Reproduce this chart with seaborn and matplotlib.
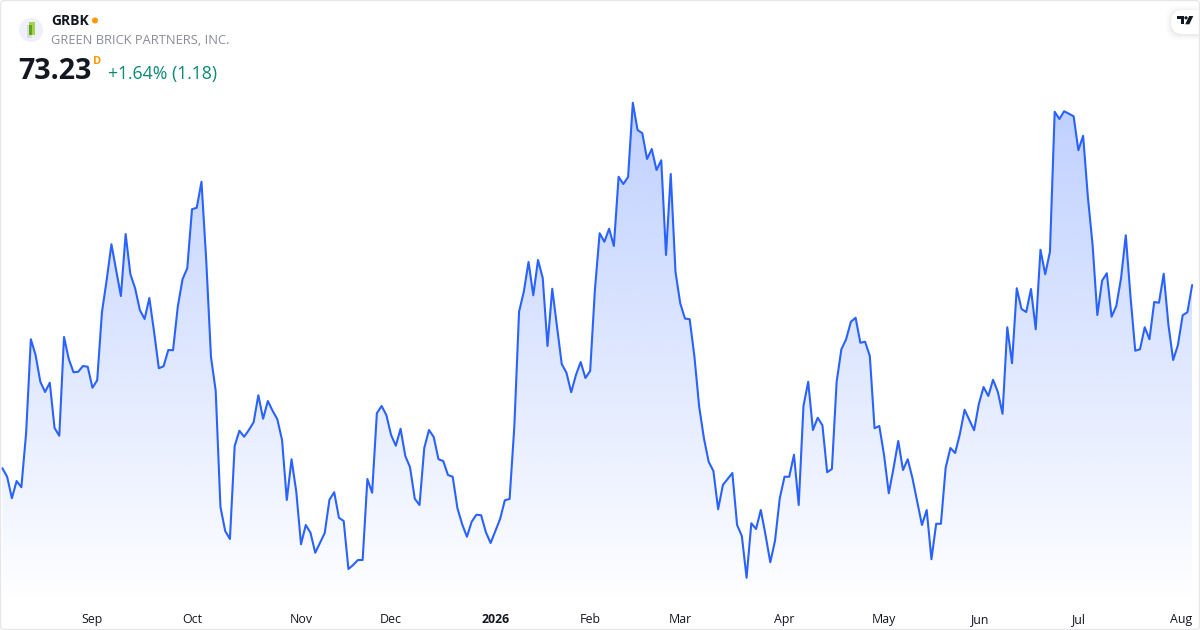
import numpy as np
import pandas as pd
import matplotlib.pyplot as plt
from matplotlib.patches import Circle, FancyBboxPatch, Polygon, Rectangle
from matplotlib.transforms import ScaledTranslation
import seaborn as sns

# Daily closes
closes = [
    65.90, 65.56, 64.70, 65.39, 65.14, 67.30, 71.06, 70.43, 69.36, 68.95,
    69.32, 67.51, 67.20, 71.15, 70.27, 69.74, 69.76, 69.99, 69.96, 69.12,
    69.42, 72.14, 73.43, 74.86, 73.83, 72.79, 75.27, 73.66, 73.10, 72.23,
    71.87, 72.71, 71.36, 69.90, 69.98, 70.63, 70.62, 72.36, 73.46, 73.90,
    76.26, 76.32, 77.36, 74.23, 70.36, 69.00, 64.36, 63.39, 63.07, 66.79,
    67.40, 67.16, 67.43, 67.74, 68.82, 67.88, 68.59, 68.20, 67.86, 67.03,
    64.63, 66.26, 64.96, 62.86, 63.63, 63.32, 62.52, 62.92, 63.31, 64.64,
    64.94, 63.92, 63.79, 61.87, 62.03, 62.23, 62.23, 65.47, 64.92, 68.10,
    68.39, 68.03, 67.23, 66.80, 67.48, 66.39, 65.94, 64.68, 64.43, 66.71,
    67.43, 67.15, 66.26, 66.19, 65.63, 65.56, 64.30, 63.66, 63.16, 63.76,
    64.04, 64.02, 63.34, 62.91, 63.39, 63.87, 64.62, 64.67, 67.56, 72.16,
    72.96, 74.15, 72.82, 74.23, 73.50, 70.79, 73.08, 71.56, 70.07, 69.72,
    68.94, 69.63, 70.15, 69.51, 69.79, 73.03, 75.30, 74.96, 75.48, 74.79,
    77.56, 77.27, 77.55, 80.52, 79.43, 79.30, 78.27, 78.67, 77.83, 78.22,
    74.43, 77.67, 73.76, 72.50, 71.89, 71.86, 70.36, 68.36, 67.10, 66.16,
    65.79, 64.26, 65.23, 65.47, 65.71, 63.63, 63.19, 61.52, 63.70, 63.47,
    64.23, 63.23, 62.14, 63.00, 64.70, 65.56, 65.56, 66.44, 64.43, 68.39,
    69.36, 67.43, 67.92, 67.62, 65.74, 65.87, 69.36, 70.66, 71.06, 71.76,
    71.92, 70.92, 70.96, 70.39, 67.50, 67.59, 66.43, 64.90, 65.90, 66.99,
    65.83, 66.26, 65.50, 64.56, 63.63, 64.23, 62.26, 63.68, 63.68, 65.92,
    66.71, 66.51, 67.27, 68.24, 67.83, 67.42, 68.47, 69.15, 68.79, 69.44,
    68.96, 68.08, 71.54, 70.10, 73.10, 72.27, 72.15, 73.07, 71.46, 74.64,
    73.66, 74.56, 80.16, 79.87, 80.18, 80.08, 79.98, 78.62, 79.20, 76.76,
    74.83, 72.03, 73.40, 73.70, 71.96, 72.39, 73.50, 75.22, 72.76, 70.60,
    70.66, 71.54, 71.06, 72.55, 72.52, 73.68, 71.63, 70.23, 70.83, 72.02,
    72.14, 73.23,
]
market_holidays = [
    "2025-09-01", "2025-11-27", "2025-12-25", "2026-01-01", "2026-01-19",
    "2026-02-16", "2026-04-03", "2026-05-25", "2026-06-19", "2026-07-03",
]
month_labels = ["Sep", "Oct", "Nov", "Dec", "2026", "Feb", "Mar", "Apr", "May", "Jun", "Jul", "Aug"]

ticker = "GRBK"
company = "GREEN BRICK PARTNERS, INC."
last_price = "73.23"
change_text = "+1.64% (1.18)"

LINE_COLOR = "#2962FF"
ORANGE = "#FF9800"

# Trading days only, so the axis runs on the row number and has no gaps
days = pd.bdate_range("2025-08-05", "2026-08-05").difference(pd.to_datetime(market_holidays))
df = pd.DataFrame({"date": days, "close": closes})
df["pos"] = np.arange(len(df))
tick_pos = df.groupby(df["date"].dt.to_period("M"))["pos"].min().iloc[1:].values

sns.set_theme(style="white")
plt.rcParams["font.family"] = ["Open Sans", "DejaVu Sans"]

fig = plt.figure(figsize=(12, 6.3), dpi=100, facecolor="white")
ax = fig.add_axes([0, 0, 1, 1])
ax.set_xlim(-2.4 / 4.74, (1200 - 2.4) / 4.74)
ax.set_ylim(59.43, 84.63)

sns.lineplot(data=df, x="pos", y="close", ax=ax, color=LINE_COLOR, linewidth=1.5, zorder=3)

# Gradient under the line, clipped to the area shape
fill_floor = 60.3
area = ax.fill_between(df["pos"], df["close"], fill_floor, color="none", linewidth=0)
rgba = np.zeros((256, 1, 4))
rgba[..., 0] = 41 / 255
rgba[..., 1] = 98 / 255
rgba[..., 2] = 1.0
rgba[..., 3] = np.linspace(0.30, 0.0, 256).reshape(-1, 1)
grad = ax.imshow(rgba, aspect="auto", origin="upper", zorder=2,
                 extent=(0, len(df) - 1, fill_floor, df["close"].max()))
grad.set_clip_path(area.get_paths()[0], transform=ax.transData)
ax.set_xlim(-2.4 / 4.74, (1200 - 2.4) / 4.74)
ax.set_ylim(59.43, 84.63)

ax.set_xlabel("")
ax.set_ylabel("")
ax.set_yticks([])
ax.set_xticks(tick_pos)
ax.set_xticklabels(month_labels, fontsize=8.9, color="#131722")
ax.tick_params(axis="x", length=0, pad=-12)
for label in ax.get_xticklabels():
    if label.get_text() == "2026":
        label.set_fontweight("bold")
    if label.get_text() == "Aug":
        # last label sits a little left of its tick, clear of the frame
        label.set_transform(label.get_transform() + ScaledTranslation(-2 / 100, 0, fig.dpi_scale_trans))
sns.despine(ax=ax, left=True, bottom=True)

# Overlay in pixel units for the header, logos and frame
ov = fig.add_axes([0, 0, 1, 1], facecolor="none")
ov.set_xlim(0, 1200)
ov.set_ylim(630, 0)
ov.axis("off")

ov.add_patch(Circle((31, 30), 12, color="#EEF1FB", lw=0))
ov.add_patch(Rectangle((29.3, 22), 6, 13, color="#A5D24A", lw=0))
ov.add_patch(Rectangle((27, 25), 5.3, 13, color="#D9D9DE", lw=0))
ov.add_patch(Rectangle((29.3, 25), 3, 10, color="#5FA51E", lw=0))

ov.text(51, 21, ticker, fontsize=10, fontweight="bold", color="#131722", va="center", ha="left")
ov.add_patch(Circle((95, 20.5), 3, color=ORANGE, lw=0))
ov.text(51, 40.5, company, fontsize=9.25, color="#8A8D97", va="center", ha="left")
ov.text(18.5, 71.5, last_price, fontsize=20.5, fontweight="bold", color="#131722", va="center", ha="left")
ov.text(93, 61.5, "D", fontsize=8, fontweight="bold", color=ORANGE, va="center", ha="left")
ov.text(108, 74.5, change_text, fontsize=12.7, color="#0C8A73", va="center", ha="left")

# TradingView badge
for grow, alpha in [(5, 0.012), (3.5, 0.015), (2, 0.02), (1, 0.025)]:
    ov.add_patch(FancyBboxPatch((1171 - grow, 10 - grow + 1), 40 + grow, 24 + 2 * grow,
                                boxstyle="round,pad=0,rounding_size=12", color="black", alpha=alpha, lw=0))
ov.add_patch(FancyBboxPatch((1171, 10), 40, 24, boxstyle="round,pad=0,rounding_size=12", color="white", lw=0))
ov.add_patch(Polygon([(1177.3, 16), (1184, 16), (1184, 24.3), (1180.7, 24.3), (1180.7, 18.8), (1177.3, 18.8)],
                     color="#131722", lw=0))
ov.add_patch(Circle((1186, 17.8), 1.6, color="#131722", lw=0))
ov.add_patch(Polygon([(1189.2, 16), (1193.3, 16), (1189.3, 24.3), (1185.2, 24.3)], color="#131722", lw=0))

ov.add_patch(FancyBboxPatch((0.5, 0.5), 1199, 629, boxstyle="round,pad=0,rounding_size=4",
                            fill=False, edgecolor="#E6E6E8", lw=0.9))

fig.savefig("out.png", dpi=100)
